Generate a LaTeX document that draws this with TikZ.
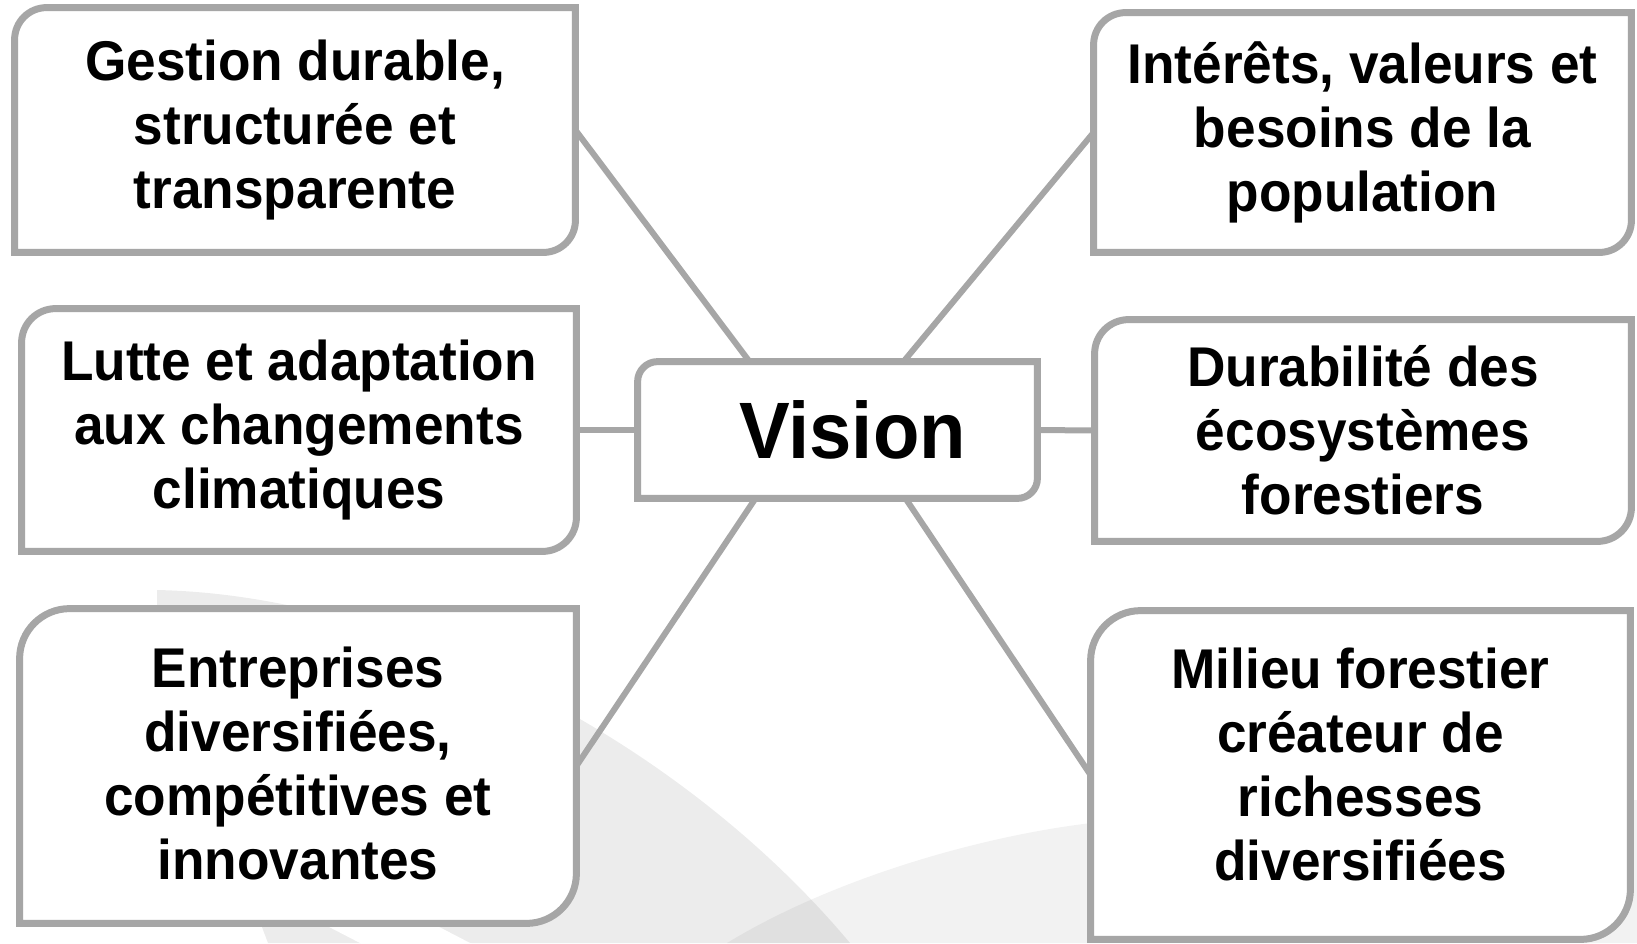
\documentclass[tikz,border=0pt]{standalone}
\usepackage{fontspec}
\setmainfont{Liberation Sans}[FakeStretch=0.95]
\definecolor{framegray}{HTML}{A6A6A6}

\pgfdeclarelayer{deep}
\pgfdeclarelayer{background}
\pgfsetlayers{deep,background,main}

% frame with rounded top-left and bottom-right corners
\newcommand{\cornerframe}[2]{%
  \filldraw[frame] (#1.south west) [rounded corners=#2] -- (#1.north west) [sharp corners] -- (#1.north east)
      [rounded corners=#2] -- (#1.south east) [sharp corners] -- cycle;}

\begin{document}
\begin{tikzpicture}[x=0.5pt,y=-0.5pt,
        idea/.style={font=\bfseries\fontsize{28}{32}\selectfont, align=center, inner sep=0pt},
        frame/.style={draw=framegray, line width=3.5pt, fill=white},
        link/.style={draw=framegray, line width=3pt}]
    \useasboundingbox (0,0) rectangle (1637,943);

    \node[idea, minimum width=280pt, minimum height=122pt] (gestion) at (295,130) {Gestion durable,\\structurée et\\transparente};
    \node[idea, minimum width=277pt, minimum height=121pt] (lutte) at (299,430) {Lutte et adaptation\\aux changements\\climatiques};
    \node[idea, minimum width=278pt, minimum height=157pt, text depth=3pt] (entreprises) at (298,766) {Entreprises\\diversifiées,\\compétitives et\\innovantes};
    \node[idea, minimum width=268.5pt, minimum height=119.5pt] (interets) at (1362.5,132.5) {Intérêts, valeurs et\\besoins de la\\population};
    \node[idea, minimum width=268pt, minimum height=110.5pt] (durabilite) at (1363,430.5) {Durabilité des\\écosystèmes\\forestiers};
    \node[idea, minimum width=269.5pt, minimum height=164pt, text depth=11pt] (milieu) at (1360.5,775) {Milieu forestier\\créateur de\\richesses\\diversifiées};
    \node[idea, font=\bfseries\fontsize{40}{44}\selectfont, minimum width=199.5pt, minimum height=68pt] (vision) at (837.5,430) {\hspace*{15pt}Vision};

    % spokes
    \draw[link] ([xshift=-44pt]vision.north) -- (gestion.east);
    \draw[link] ([xshift=33pt]vision.north) -- (interets.west);
    \draw[link] (vision.west) -- (lutte.east);
    \draw[link] (vision.east) -- (durabilite.west);
    \draw[link] ([xshift=-41pt]vision.south) -- (entreprises.east);
    \draw[link] ([xshift=34pt]vision.south) -- (milieu.west);

    \begin{pgfonlayer}{background}
        \cornerframe{gestion}{16pt}
        \cornerframe{lutte}{17pt}
        \cornerframe{entreprises}{25pt}
        \cornerframe{interets}{16pt}
        \cornerframe{durabilite}{17pt}
        \cornerframe{milieu}{25pt}
        \cornerframe{vision}{10pt}
    \end{pgfonlayer}

    % faint swooshes behind everything
    \begin{pgfonlayer}{deep}
        \fill[black, fill opacity=0.075] (157,590) .. controls (400,595) and (680,740) .. (850,943)
            -- (268,943) -- (157,650) -- cycle;
        \fill[white] (250,886) -- (362,944) -- (472,944) -- (360,886) -- cycle;
        \fill[black, fill opacity=0.05] (727,943) .. controls (830,880) and (980,835) .. (1100,822)
            -- (1637,800) -- (1637,943) -- cycle;
    \end{pgfonlayer}
\end{tikzpicture}
\end{document}
